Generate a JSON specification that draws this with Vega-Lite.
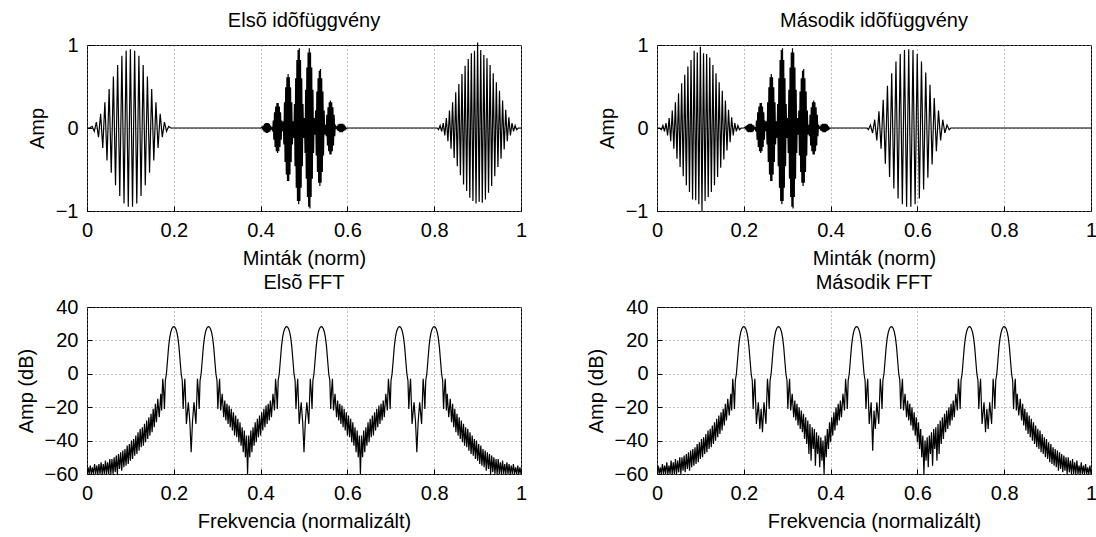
{
"$schema": "https://vega.github.io/schema/vega-lite/v6.json",
"background": "white",
"padding": {"left": 15, "top": 10, "right": 2, "bottom": 2},
"bounds": "flush",
"columns": 2,
"spacing": {"row": 96, "column": 136},
"config": {
  "font": "Liberation Sans",
  "view": {"stroke": "black", "strokeWidth": 1},
  "axis": {"domain": false, "ticks": true, "tickSize": -5, "tickColor": "black", "tickWidth": 1, "grid": true, "gridColor": "#808080", "gridDash": [1, 3], "gridWidth": 1, "labelFontSize": 20, "titleFontSize": 20, "titleFontWeight": "normal", "labelColor": "black", "titleColor": "black", "labelFlush": false, "labelOverlap": false, "labelPadding": 14, "titlePadding": 8},
  "title": {"fontSize": 20, "fontWeight": "normal", "color": "black", "offset": 4},
  "line": {"color": "black", "strokeWidth": 1.2}
},
"datasets": {
"tl": [
{"x":0,"y":0},{"x":0.006,"y":0},
{"x":0.0118,"y":0.02},{"x":0.0167,"y":-0.04},{"x":0.0216,"y":0.07},{"x":0.0265,"y":-0.11},{"x":0.0314,"y":0.17},{"x":0.0363,"y":-0.24},{"x":0.0412,"y":0.31},{"x":0.0461,"y":-0.39},{"x":0.051,"y":0.47},{"x":0.0559,"y":-0.54},{"x":0.0608,"y":0.62},{"x":0.0657,"y":-0.69},{"x":0.0706,"y":0.76},{"x":0.0755,"y":-0.82},{"x":0.0804,"y":0.87},{"x":0.0853,"y":-0.91},{"x":0.0902,"y":0.93},{"x":0.0951,"y":-0.95},{"x":0.1,"y":0.95},{"x":0.1049,"y":-0.95},{"x":0.1098,"y":0.93},{"x":0.1147,"y":-0.91},{"x":0.1196,"y":0.87},{"x":0.1245,"y":-0.82},{"x":0.1294,"y":0.76},{"x":0.1343,"y":-0.69},{"x":0.1392,"y":0.62},{"x":0.1441,"y":-0.54},{"x":0.149,"y":0.47},{"x":0.1539,"y":-0.39},{"x":0.1588,"y":0.31},{"x":0.1637,"y":-0.24},{"x":0.1686,"y":0.17},{"x":0.1735,"y":-0.11},{"x":0.1784,"y":0.07},{"x":0.1833,"y":-0.04},{"x":0.1882,"y":0.02},{"x":0.193,"y":0},
{"x":0.401,"y":0},
{"x":0.4034,"y":0.01},{"x":0.4048,"y":-0.02},{"x":0.4062,"y":0.03},{"x":0.4076,"y":-0.04},{"x":0.409,"y":0.05},{"x":0.4104,"y":-0.05},{"x":0.4118,"y":0.06},{"x":0.4132,"y":-0.06},{"x":0.4146,"y":0.06},{"x":0.416,"y":-0.06},{"x":0.4174,"y":0.06},{"x":0.4188,"y":-0.05},{"x":0.4202,"y":0.05},{"x":0.4216,"y":-0.04},{"x":0.423,"y":0.03},{"x":0.4244,"y":-0.02},{"x":0.4258,"y":0.01},
{"x":0.4278,"y":-0.04},{"x":0.4292,"y":0.09},{"x":0.4306,"y":-0.14},{"x":0.432,"y":0.19},{"x":0.4334,"y":-0.23},{"x":0.4348,"y":0.26},{"x":0.4362,"y":-0.28},{"x":0.4376,"y":0.3},{"x":0.439,"y":-0.3},{"x":0.4404,"y":0.3},{"x":0.4418,"y":-0.28},{"x":0.4432,"y":0.26},{"x":0.4446,"y":-0.23},{"x":0.446,"y":0.19},{"x":0.4474,"y":-0.14},{"x":0.4488,"y":0.09},{"x":0.4502,"y":-0.04},
{"x":0.4522,"y":0.08},{"x":0.4536,"y":-0.2},{"x":0.455,"y":0.31},{"x":0.4564,"y":-0.41},{"x":0.4578,"y":0.49},{"x":0.4592,"y":-0.56},{"x":0.4606,"y":0.61},{"x":0.462,"y":-0.64},{"x":0.4634,"y":0.65},{"x":0.4648,"y":-0.64},{"x":0.4662,"y":0.61},{"x":0.4676,"y":-0.56},{"x":0.469,"y":0.49},{"x":0.4704,"y":-0.41},{"x":0.4718,"y":0.31},{"x":0.4732,"y":-0.2},{"x":0.4746,"y":0.08},
{"x":0.4766,"y":-0.12},{"x":0.478,"y":0.29},{"x":0.4794,"y":-0.46},{"x":0.4808,"y":0.6},{"x":0.4822,"y":-0.72},{"x":0.4836,"y":0.82},{"x":0.485,"y":-0.88},{"x":0.4864,"y":0.94},{"x":0.4878,"y":-0.92},{"x":0.4892,"y":0.96},{"x":0.4906,"y":-0.88},{"x":0.492,"y":0.82},{"x":0.4934,"y":-0.72},{"x":0.4948,"y":0.6},{"x":0.4962,"y":-0.46},{"x":0.4976,"y":0.29},{"x":0.499,"y":-0.12},
{"x":0.501,"y":0.12},{"x":0.5024,"y":-0.3},{"x":0.5038,"y":0.46},{"x":0.5052,"y":-0.61},{"x":0.5066,"y":0.73},{"x":0.508,"y":-0.83},{"x":0.5094,"y":0.91},{"x":0.5108,"y":-0.95},{"x":0.5122,"y":0.96},{"x":0.5136,"y":-0.97},{"x":0.515,"y":0.91},{"x":0.5164,"y":-0.83},{"x":0.5178,"y":0.73},{"x":0.5192,"y":-0.61},{"x":0.5206,"y":0.46},{"x":0.522,"y":-0.3},{"x":0.5234,"y":0.12},
{"x":0.5254,"y":-0.08},{"x":0.5268,"y":0.21},{"x":0.5282,"y":-0.33},{"x":0.5296,"y":0.44},{"x":0.531,"y":-0.53},{"x":0.5324,"y":0.6},{"x":0.5338,"y":-0.66},{"x":0.5352,"y":0.69},{"x":0.5366,"y":-0.7},{"x":0.538,"y":0.71},{"x":0.5394,"y":-0.66},{"x":0.5408,"y":0.6},{"x":0.5422,"y":-0.53},{"x":0.5436,"y":0.44},{"x":0.545,"y":-0.33},{"x":0.5464,"y":0.21},{"x":0.5478,"y":-0.08},
{"x":0.5498,"y":0.04},{"x":0.5512,"y":-0.1},{"x":0.5526,"y":0.16},{"x":0.554,"y":-0.21},{"x":0.5554,"y":0.25},{"x":0.5568,"y":-0.28},{"x":0.5582,"y":0.31},{"x":0.5596,"y":-0.32},{"x":0.561,"y":0.33},{"x":0.5624,"y":-0.32},{"x":0.5638,"y":0.31},{"x":0.5652,"y":-0.28},{"x":0.5666,"y":0.25},{"x":0.568,"y":-0.21},{"x":0.5694,"y":0.16},{"x":0.5708,"y":-0.1},{"x":0.5722,"y":0.04},
{"x":0.5742,"y":-0.01},{"x":0.5756,"y":0.02},{"x":0.577,"y":-0.03},{"x":0.5784,"y":0.04},{"x":0.5798,"y":-0.04},{"x":0.5812,"y":0.05},{"x":0.5826,"y":-0.05},{"x":0.584,"y":0.05},{"x":0.5854,"y":-0.05},{"x":0.5868,"y":0.05},{"x":0.5882,"y":-0.05},{"x":0.5896,"y":0.05},{"x":0.591,"y":-0.04},{"x":0.5924,"y":0.04},{"x":0.5938,"y":-0.03},{"x":0.5952,"y":0.02},{"x":0.5966,"y":-0.01},{"x":0.599,"y":0},
{"x":0.807,"y":0},
{"x":0.81,"y":-0.02},{"x":0.8136,"y":0.03},{"x":0.8172,"y":-0.04},{"x":0.8208,"y":0.06},{"x":0.8244,"y":-0.09},{"x":0.828,"y":0.12},{"x":0.8316,"y":-0.16},{"x":0.8352,"y":0.21},{"x":0.8388,"y":-0.25},{"x":0.8424,"y":0.31},{"x":0.846,"y":-0.36},{"x":0.8496,"y":0.43},{"x":0.8532,"y":-0.46},{"x":0.8568,"y":0.53},{"x":0.8604,"y":-0.57},{"x":0.864,"y":0.65},{"x":0.8676,"y":-0.68},{"x":0.8712,"y":0.75},{"x":0.8748,"y":-0.76},{"x":0.8784,"y":0.83},{"x":0.882,"y":-0.84},{"x":0.8856,"y":0.9},{"x":0.8892,"y":-0.88},{"x":0.8928,"y":0.93},{"x":0.8964,"y":-0.91},{"x":0.9,"y":1.03},{"x":0.9036,"y":-0.89},{"x":0.9072,"y":0.94},{"x":0.9108,"y":-0.9},{"x":0.9144,"y":0.88},{"x":0.918,"y":-0.86},{"x":0.9216,"y":0.84},{"x":0.9252,"y":-0.78},{"x":0.9288,"y":0.76},{"x":0.9324,"y":-0.7},{"x":0.936,"y":0.66},{"x":0.9396,"y":-0.58},{"x":0.9432,"y":0.55},{"x":0.9468,"y":-0.47},{"x":0.9504,"y":0.45},{"x":0.954,"y":-0.37},{"x":0.9576,"y":0.33},{"x":0.9612,"y":-0.26},{"x":0.9648,"y":0.22},{"x":0.9684,"y":-0.16},{"x":0.972,"y":0.13},{"x":0.9756,"y":-0.09},{"x":0.9792,"y":0.06},{"x":0.9828,"y":-0.04},{"x":0.9864,"y":0.03},{"x":0.99,"y":-0.02},{"x":0.994,"y":0},{"x":1,"y":0}
],
"tr": [
{"x":0,"y":0},{"x":0.006,"y":0},
{"x":0.01,"y":-0.02},{"x":0.0136,"y":0.03},{"x":0.0172,"y":-0.04},{"x":0.0208,"y":0.06},{"x":0.0244,"y":-0.09},{"x":0.028,"y":0.12},{"x":0.0316,"y":-0.16},{"x":0.0352,"y":0.21},{"x":0.0388,"y":-0.25},{"x":0.0424,"y":0.31},{"x":0.046,"y":-0.37},{"x":0.0496,"y":0.42},{"x":0.0532,"y":-0.47},{"x":0.0568,"y":0.54},{"x":0.0604,"y":-0.58},{"x":0.064,"y":0.64},{"x":0.0676,"y":-0.69},{"x":0.0712,"y":0.74},{"x":0.0748,"y":-0.77},{"x":0.0784,"y":0.82},{"x":0.082,"y":-0.86},{"x":0.0856,"y":0.93},{"x":0.0892,"y":-0.87},{"x":0.0928,"y":0.91},{"x":0.0964,"y":-0.92},{"x":0.1,"y":0.98},{"x":0.1036,"y":-1.0},{"x":0.1072,"y":0.9},{"x":0.1108,"y":-0.88},{"x":0.1144,"y":0.89},{"x":0.118,"y":-0.83},{"x":0.1216,"y":0.85},{"x":0.1252,"y":-0.77},{"x":0.1288,"y":0.76},{"x":0.1324,"y":-0.69},{"x":0.136,"y":0.66},{"x":0.1396,"y":-0.59},{"x":0.1432,"y":0.55},{"x":0.1468,"y":-0.48},{"x":0.1504,"y":0.45},{"x":0.154,"y":-0.38},{"x":0.1576,"y":0.33},{"x":0.1612,"y":-0.27},{"x":0.1648,"y":0.22},{"x":0.1684,"y":-0.17},{"x":0.172,"y":0.13},{"x":0.1756,"y":-0.09},{"x":0.1792,"y":0.06},{"x":0.1828,"y":-0.04},{"x":0.1864,"y":0.03},{"x":0.19,"y":-0.02},{"x":0.194,"y":0},{"x":0.201,"y":0},
{"x":0.2034,"y":0.01},{"x":0.2048,"y":-0.02},{"x":0.2062,"y":0.03},{"x":0.2076,"y":-0.04},{"x":0.209,"y":0.04},{"x":0.2104,"y":-0.05},{"x":0.2118,"y":0.05},{"x":0.2132,"y":-0.05},{"x":0.2146,"y":0.05},{"x":0.216,"y":-0.05},{"x":0.2174,"y":0.05},{"x":0.2188,"y":-0.05},{"x":0.2202,"y":0.04},{"x":0.2216,"y":-0.04},{"x":0.223,"y":0.03},{"x":0.2244,"y":-0.02},{"x":0.2258,"y":0.01},
{"x":0.2278,"y":-0.04},{"x":0.2292,"y":0.09},{"x":0.2306,"y":-0.14},{"x":0.232,"y":0.19},{"x":0.2334,"y":-0.23},{"x":0.2348,"y":0.26},{"x":0.2362,"y":-0.28},{"x":0.2376,"y":0.3},{"x":0.239,"y":-0.3},{"x":0.2404,"y":0.3},{"x":0.2418,"y":-0.28},{"x":0.2432,"y":0.26},{"x":0.2446,"y":-0.23},{"x":0.246,"y":0.19},{"x":0.2474,"y":-0.14},{"x":0.2488,"y":0.09},{"x":0.2502,"y":-0.04},
{"x":0.2522,"y":0.08},{"x":0.2536,"y":-0.2},{"x":0.255,"y":0.31},{"x":0.2564,"y":-0.41},{"x":0.2578,"y":0.49},{"x":0.2592,"y":-0.56},{"x":0.2606,"y":0.61},{"x":0.262,"y":-0.64},{"x":0.2634,"y":0.65},{"x":0.2648,"y":-0.64},{"x":0.2662,"y":0.61},{"x":0.2676,"y":-0.56},{"x":0.269,"y":0.49},{"x":0.2704,"y":-0.41},{"x":0.2718,"y":0.31},{"x":0.2732,"y":-0.2},{"x":0.2746,"y":0.08},
{"x":0.2766,"y":-0.12},{"x":0.278,"y":0.29},{"x":0.2794,"y":-0.46},{"x":0.2808,"y":0.6},{"x":0.2822,"y":-0.72},{"x":0.2836,"y":0.82},{"x":0.285,"y":-0.88},{"x":0.2864,"y":0.94},{"x":0.2878,"y":-0.92},{"x":0.2892,"y":0.96},{"x":0.2906,"y":-0.88},{"x":0.292,"y":0.82},{"x":0.2934,"y":-0.72},{"x":0.2948,"y":0.6},{"x":0.2962,"y":-0.46},{"x":0.2976,"y":0.29},{"x":0.299,"y":-0.12},
{"x":0.301,"y":0.12},{"x":0.3024,"y":-0.3},{"x":0.3038,"y":0.46},{"x":0.3052,"y":-0.61},{"x":0.3066,"y":0.73},{"x":0.308,"y":-0.83},{"x":0.3094,"y":0.91},{"x":0.3108,"y":-0.95},{"x":0.3122,"y":0.96},{"x":0.3136,"y":-0.97},{"x":0.315,"y":0.91},{"x":0.3164,"y":-0.83},{"x":0.3178,"y":0.73},{"x":0.3192,"y":-0.61},{"x":0.3206,"y":0.46},{"x":0.322,"y":-0.3},{"x":0.3234,"y":0.12},
{"x":0.3254,"y":-0.08},{"x":0.3268,"y":0.21},{"x":0.3282,"y":-0.33},{"x":0.3296,"y":0.44},{"x":0.331,"y":-0.53},{"x":0.3324,"y":0.6},{"x":0.3338,"y":-0.66},{"x":0.3352,"y":0.69},{"x":0.3366,"y":-0.7},{"x":0.338,"y":0.71},{"x":0.3394,"y":-0.66},{"x":0.3408,"y":0.6},{"x":0.3422,"y":-0.53},{"x":0.3436,"y":0.44},{"x":0.345,"y":-0.33},{"x":0.3464,"y":0.21},{"x":0.3478,"y":-0.08},
{"x":0.3498,"y":0.04},{"x":0.3512,"y":-0.1},{"x":0.3526,"y":0.16},{"x":0.354,"y":-0.21},{"x":0.3554,"y":0.25},{"x":0.3568,"y":-0.28},{"x":0.3582,"y":0.31},{"x":0.3596,"y":-0.32},{"x":0.361,"y":0.33},{"x":0.3624,"y":-0.32},{"x":0.3638,"y":0.31},{"x":0.3652,"y":-0.28},{"x":0.3666,"y":0.25},{"x":0.368,"y":-0.21},{"x":0.3694,"y":0.16},{"x":0.3708,"y":-0.1},{"x":0.3722,"y":0.04},
{"x":0.3742,"y":-0.01},{"x":0.3756,"y":0.02},{"x":0.377,"y":-0.03},{"x":0.3784,"y":0.04},{"x":0.3798,"y":-0.04},{"x":0.3812,"y":0.05},{"x":0.3826,"y":-0.05},{"x":0.384,"y":0.05},{"x":0.3854,"y":-0.05},{"x":0.3868,"y":0.05},{"x":0.3882,"y":-0.05},{"x":0.3896,"y":0.05},{"x":0.391,"y":-0.04},{"x":0.3924,"y":0.04},{"x":0.3938,"y":-0.03},{"x":0.3952,"y":0.02},{"x":0.3966,"y":-0.01},{"x":0.399,"y":0},
{"x":0.484,"y":0},
{"x":0.4869,"y":-0.02},{"x":0.4918,"y":0.035},{"x":0.4967,"y":-0.06},{"x":0.5016,"y":0.1},{"x":0.5065,"y":-0.15},{"x":0.5114,"y":0.2},{"x":0.5163,"y":-0.25},{"x":0.5212,"y":0.34},{"x":0.5261,"y":-0.43},{"x":0.531,"y":0.51},{"x":0.5359,"y":-0.59},{"x":0.5408,"y":0.66},{"x":0.5457,"y":-0.73},{"x":0.5506,"y":0.8},{"x":0.5555,"y":-0.85},{"x":0.5604,"y":0.89},{"x":0.5653,"y":-0.92},{"x":0.5702,"y":0.94},{"x":0.5751,"y":-0.95},{"x":0.58,"y":0.95},{"x":0.5849,"y":-0.95},{"x":0.5898,"y":0.94},{"x":0.5947,"y":-0.92},{"x":0.5996,"y":0.89},{"x":0.6045,"y":-0.85},{"x":0.6094,"y":0.8},{"x":0.6143,"y":-0.74},{"x":0.6192,"y":0.67},{"x":0.6241,"y":-0.6},{"x":0.629,"y":0.52},{"x":0.6339,"y":-0.44},{"x":0.6388,"y":0.36},{"x":0.6437,"y":-0.28},{"x":0.6486,"y":0.21},{"x":0.6535,"y":-0.15},{"x":0.6584,"y":0.1},{"x":0.6633,"y":-0.06},{"x":0.6682,"y":0.035},{"x":0.6731,"y":-0.02},{"x":0.677,"y":0},{"x":1,"y":0}
],
"bl": [
{"x":0,"y":-60},{"x":0.0025,"y":-56},{"x":0.005,"y":-60},{"x":0.0075,"y":-55},{"x":0.01,"y":-60},{"x":0.0125,"y":-56},{"x":0.015,"y":-60},{"x":0.0175,"y":-54},{"x":0.02,"y":-60},{"x":0.0225,"y":-55},{"x":0.025,"y":-60},{"x":0.0275,"y":-54},{"x":0.03,"y":-60},{"x":0.0325,"y":-53},{"x":0.035,"y":-60},{"x":0.0375,"y":-54},{"x":0.04,"y":-60},{"x":0.0425,"y":-52},{"x":0.045,"y":-60},{"x":0.0475,"y":-53},{"x":0.05,"y":-60},{"x":0.0525,"y":-51},{"x":0.055,"y":-60},{"x":0.0575,"y":-51},{"x":0.06,"y":-60},{"x":0.0625,"y":-50},{"x":0.065,"y":-59},{"x":0.0675,"y":-49},{"x":0.07,"y":-60},{"x":0.0725,"y":-48},{"x":0.075,"y":-57},{"x":0.0775,"y":-47},{"x":0.08,"y":-58},{"x":0.0825,"y":-46},{"x":0.085,"y":-56},{"x":0.0875,"y":-45},{"x":0.09,"y":-55},{"x":0.0925,"y":-43},{"x":0.095,"y":-54},{"x":0.0975,"y":-42},{"x":0.1,"y":-52},{"x":0.1025,"y":-40},{"x":0.105,"y":-51},{"x":0.1075,"y":-39},{"x":0.11,"y":-49},{"x":0.1125,"y":-37},{"x":0.115,"y":-48},{"x":0.1175,"y":-35},{"x":0.12,"y":-46},{"x":0.1225,"y":-33},{"x":0.125,"y":-44},{"x":0.1275,"y":-32},{"x":0.13,"y":-43},{"x":0.1325,"y":-30},{"x":0.135,"y":-41},{"x":0.1375,"y":-28},{"x":0.14,"y":-39},{"x":0.1425,"y":-26},{"x":0.145,"y":-37},{"x":0.1475,"y":-24},{"x":0.15,"y":-35},{"x":0.1525,"y":-21},{"x":0.155,"y":-32},{"x":0.1575,"y":-18},{"x":0.16,"y":-29},{"x":0.163,"y":-15},{"x":0.1665,"y":-26},{"x":0.17,"y":-12},{"x":0.172,"y":-22},
{"x":0.1745,"y":-3},{"x":0.1765,"y":-10},{"x":0.1785,"y":-21},{"x":0.1805,"y":-4},{"x":0.183,"y":0},{"x":0.1855,"y":8},{"x":0.188,"y":16},{"x":0.1905,"y":21.5},{"x":0.193,"y":25},{"x":0.1955,"y":27},{"x":0.198,"y":28},{"x":0.2,"y":28.2},{"x":0.202,"y":28},{"x":0.2045,"y":27},{"x":0.207,"y":25},{"x":0.2095,"y":21.5},{"x":0.212,"y":16},{"x":0.2145,"y":8},{"x":0.217,"y":0},{"x":0.2195,"y":-4},{"x":0.2215,"y":-21},{"x":0.2235,"y":-10},{"x":0.2255,"y":-3},
{"x":0.229,"y":-30},{"x":0.2335,"y":-17},{"x":0.237,"y":-29},{"x":0.24,"y":-47},{"x":0.243,"y":-29},{"x":0.2465,"y":-17},{"x":0.251,"y":-30},
{"x":0.2545,"y":-3},{"x":0.2565,"y":-10},{"x":0.2585,"y":-21},{"x":0.2605,"y":-4},{"x":0.263,"y":0},{"x":0.2655,"y":8},{"x":0.268,"y":16},{"x":0.2705,"y":21.5},{"x":0.273,"y":25},{"x":0.2755,"y":27},{"x":0.278,"y":28},{"x":0.28,"y":28.2},{"x":0.282,"y":28},{"x":0.2845,"y":27},{"x":0.287,"y":25},{"x":0.2895,"y":21.5},{"x":0.292,"y":16},{"x":0.2945,"y":8},{"x":0.297,"y":0},{"x":0.2995,"y":-4},{"x":0.3015,"y":-21},{"x":0.3035,"y":-10},{"x":0.3055,"y":-3},
{"x":0.308,"y":-22},{"x":0.3115,"y":-12},{"x":0.315,"y":-26},{"x":0.3175,"y":-16},{"x":0.32,"y":-28},{"x":0.3225,"y":-18},{"x":0.325,"y":-30},{"x":0.3275,"y":-19},{"x":0.33,"y":-32},{"x":0.3325,"y":-21},{"x":0.335,"y":-34},{"x":0.3375,"y":-23},{"x":0.34,"y":-37},{"x":0.3425,"y":-25},{"x":0.345,"y":-38},{"x":0.3475,"y":-27},{"x":0.35,"y":-41},{"x":0.3525,"y":-29},{"x":0.355,"y":-43},{"x":0.3575,"y":-32},{"x":0.36,"y":-47},{"x":0.3625,"y":-34},{"x":0.365,"y":-50},{"x":0.3675,"y":-37},{"x":0.37,"y":-60},{"x":0.3725,"y":-37},{"x":0.375,"y":-50},{"x":0.3775,"y":-34},{"x":0.38,"y":-47},{"x":0.3825,"y":-32},{"x":0.385,"y":-43},{"x":0.3875,"y":-29},{"x":0.39,"y":-41},{"x":0.3925,"y":-27},{"x":0.395,"y":-38},{"x":0.3975,"y":-25},{"x":0.4,"y":-37},{"x":0.4025,"y":-23},{"x":0.405,"y":-34},{"x":0.4075,"y":-21},{"x":0.41,"y":-32},{"x":0.4125,"y":-19},{"x":0.415,"y":-30},{"x":0.4175,"y":-18},{"x":0.42,"y":-28},{"x":0.4225,"y":-16},{"x":0.425,"y":-26},{"x":0.4285,"y":-12},{"x":0.432,"y":-22},
{"x":0.4345,"y":-3},{"x":0.4365,"y":-10},{"x":0.4385,"y":-21},{"x":0.4405,"y":-4},{"x":0.443,"y":0},{"x":0.4455,"y":8},{"x":0.448,"y":16},{"x":0.4505,"y":21.5},{"x":0.453,"y":25},{"x":0.4555,"y":27},{"x":0.458,"y":28},{"x":0.46,"y":28.2},{"x":0.462,"y":28},{"x":0.4645,"y":27},{"x":0.467,"y":25},{"x":0.4695,"y":21.5},{"x":0.472,"y":16},{"x":0.4745,"y":8},{"x":0.477,"y":0},{"x":0.4795,"y":-4},{"x":0.4815,"y":-21},{"x":0.4835,"y":-10},{"x":0.4855,"y":-3},
{"x":0.489,"y":-30},{"x":0.4935,"y":-17},{"x":0.497,"y":-29},{"x":0.5,"y":-47},{"x":0.503,"y":-29},{"x":0.5065,"y":-17},{"x":0.511,"y":-30},
{"x":0.5145,"y":-3},{"x":0.5165,"y":-10},{"x":0.5185,"y":-21},{"x":0.5205,"y":-4},{"x":0.523,"y":0},{"x":0.5255,"y":8},{"x":0.528,"y":16},{"x":0.5305,"y":21.5},{"x":0.533,"y":25},{"x":0.5355,"y":27},{"x":0.538,"y":28},{"x":0.54,"y":28.2},{"x":0.542,"y":28},{"x":0.5445,"y":27},{"x":0.547,"y":25},{"x":0.5495,"y":21.5},{"x":0.552,"y":16},{"x":0.5545,"y":8},{"x":0.557,"y":0},{"x":0.5595,"y":-4},{"x":0.5615,"y":-21},{"x":0.5635,"y":-10},{"x":0.5655,"y":-3},
{"x":0.568,"y":-22},{"x":0.5715,"y":-12},{"x":0.575,"y":-26},{"x":0.5775,"y":-16},{"x":0.58,"y":-28},{"x":0.5825,"y":-18},{"x":0.585,"y":-30},{"x":0.5875,"y":-19},{"x":0.59,"y":-32},{"x":0.5925,"y":-21},{"x":0.595,"y":-34},{"x":0.5975,"y":-23},{"x":0.6,"y":-37},{"x":0.6025,"y":-25},{"x":0.605,"y":-38},{"x":0.6075,"y":-27},{"x":0.61,"y":-41},{"x":0.6125,"y":-29},{"x":0.615,"y":-43},{"x":0.6175,"y":-32},{"x":0.62,"y":-47},{"x":0.6225,"y":-34},{"x":0.625,"y":-50},{"x":0.6275,"y":-37},{"x":0.63,"y":-60},{"x":0.6325,"y":-37},{"x":0.635,"y":-50},{"x":0.6375,"y":-34},{"x":0.64,"y":-47},{"x":0.6425,"y":-32},{"x":0.645,"y":-43},{"x":0.6475,"y":-29},{"x":0.65,"y":-41},{"x":0.6525,"y":-27},{"x":0.655,"y":-38},{"x":0.6575,"y":-25},{"x":0.66,"y":-37},{"x":0.6625,"y":-23},{"x":0.665,"y":-34},{"x":0.6675,"y":-21},{"x":0.67,"y":-32},{"x":0.6725,"y":-19},{"x":0.675,"y":-30},{"x":0.6775,"y":-18},{"x":0.68,"y":-28},{"x":0.6825,"y":-16},{"x":0.685,"y":-26},{"x":0.6885,"y":-12},{"x":0.692,"y":-22},
{"x":0.6945,"y":-3},{"x":0.6965,"y":-10},{"x":0.6985,"y":-21},{"x":0.7005,"y":-4},{"x":0.703,"y":0},{"x":0.7055,"y":8},{"x":0.708,"y":16},{"x":0.7105,"y":21.5},{"x":0.713,"y":25},{"x":0.7155,"y":27},{"x":0.718,"y":28},{"x":0.72,"y":28.2},{"x":0.722,"y":28},{"x":0.7245,"y":27},{"x":0.727,"y":25},{"x":0.7295,"y":21.5},{"x":0.732,"y":16},{"x":0.7345,"y":8},{"x":0.737,"y":0},{"x":0.7395,"y":-4},{"x":0.7415,"y":-21},{"x":0.7435,"y":-10},{"x":0.7455,"y":-3},
{"x":0.749,"y":-30},{"x":0.7535,"y":-17},{"x":0.757,"y":-29},{"x":0.76,"y":-47},{"x":0.763,"y":-29},{"x":0.7665,"y":-17},{"x":0.771,"y":-30},
{"x":0.7745,"y":-3},{"x":0.7765,"y":-10},{"x":0.7785,"y":-21},{"x":0.7805,"y":-4},{"x":0.783,"y":0},{"x":0.7855,"y":8},{"x":0.788,"y":16},{"x":0.7905,"y":21.5},{"x":0.793,"y":25},{"x":0.7955,"y":27},{"x":0.798,"y":28},{"x":0.8,"y":28.2},{"x":0.802,"y":28},{"x":0.8045,"y":27},{"x":0.807,"y":25},{"x":0.8095,"y":21.5},{"x":0.812,"y":16},{"x":0.8145,"y":8},{"x":0.817,"y":0},{"x":0.8195,"y":-4},{"x":0.8215,"y":-21},{"x":0.8235,"y":-10},{"x":0.8255,"y":-3},
{"x":0.828,"y":-22},{"x":0.83,"y":-12},{"x":0.8335,"y":-26},{"x":0.837,"y":-15},{"x":0.84,"y":-29},{"x":0.8425,"y":-18},{"x":0.845,"y":-32},{"x":0.8475,"y":-21},{"x":0.85,"y":-35},{"x":0.8525,"y":-24},{"x":0.855,"y":-37},{"x":0.8575,"y":-26},{"x":0.86,"y":-39},{"x":0.8625,"y":-28},{"x":0.865,"y":-41},{"x":0.8675,"y":-30},{"x":0.87,"y":-43},{"x":0.8725,"y":-32},{"x":0.875,"y":-44},{"x":0.8775,"y":-33},{"x":0.88,"y":-46},{"x":0.8825,"y":-35},{"x":0.885,"y":-48},{"x":0.8875,"y":-37},{"x":0.89,"y":-49},{"x":0.8925,"y":-39},{"x":0.895,"y":-51},{"x":0.8975,"y":-40},{"x":0.9,"y":-52},{"x":0.9025,"y":-42},{"x":0.905,"y":-54},{"x":0.9075,"y":-43},{"x":0.91,"y":-55},{"x":0.9125,"y":-45},{"x":0.915,"y":-56},{"x":0.9175,"y":-46},{"x":0.92,"y":-58},{"x":0.9225,"y":-47},{"x":0.925,"y":-57},{"x":0.9275,"y":-48},{"x":0.93,"y":-60},{"x":0.9325,"y":-49},{"x":0.935,"y":-59},{"x":0.9375,"y":-50},{"x":0.94,"y":-60},{"x":0.9425,"y":-51},{"x":0.945,"y":-60},{"x":0.9475,"y":-51},{"x":0.95,"y":-60},{"x":0.9525,"y":-53},{"x":0.955,"y":-60},{"x":0.9575,"y":-52},{"x":0.96,"y":-60},{"x":0.9625,"y":-54},{"x":0.965,"y":-60},{"x":0.9675,"y":-53},{"x":0.97,"y":-60},{"x":0.9725,"y":-54},{"x":0.975,"y":-60},{"x":0.9775,"y":-55},{"x":0.98,"y":-60},{"x":0.9825,"y":-54},{"x":0.985,"y":-60},{"x":0.9875,"y":-56},{"x":0.99,"y":-60},{"x":0.9925,"y":-55},{"x":0.995,"y":-60},{"x":0.9975,"y":-56},{"x":1,"y":-60}
],
"br": [
{"x":0,"y":-60},{"x":0.0025,"y":-55},{"x":0.005,"y":-60},{"x":0.0075,"y":-56},{"x":0.01,"y":-60},{"x":0.0125,"y":-54},{"x":0.015,"y":-60},{"x":0.0175,"y":-55},{"x":0.02,"y":-60},{"x":0.0225,"y":-53},{"x":0.025,"y":-60},{"x":0.0275,"y":-55},{"x":0.03,"y":-60},{"x":0.0325,"y":-52},{"x":0.035,"y":-60},{"x":0.0375,"y":-53},{"x":0.04,"y":-60},{"x":0.0425,"y":-51},{"x":0.045,"y":-60},{"x":0.0475,"y":-52},{"x":0.05,"y":-59},{"x":0.0525,"y":-50},{"x":0.055,"y":-60},{"x":0.0575,"y":-50},{"x":0.06,"y":-58},{"x":0.0625,"y":-49},{"x":0.065,"y":-59},{"x":0.0675,"y":-48},{"x":0.07,"y":-57},{"x":0.0725,"y":-47},{"x":0.075,"y":-58},{"x":0.0775,"y":-46},{"x":0.08,"y":-56},{"x":0.0825,"y":-45},{"x":0.085,"y":-55},{"x":0.0875,"y":-44},{"x":0.09,"y":-54},{"x":0.0925,"y":-42},{"x":0.095,"y":-53},{"x":0.0975,"y":-41},{"x":0.1,"y":-51},{"x":0.1025,"y":-39},{"x":0.105,"y":-50},{"x":0.1075,"y":-38},{"x":0.11,"y":-48},{"x":0.1125,"y":-36},{"x":0.115,"y":-47},{"x":0.1175,"y":-34},{"x":0.12,"y":-45},{"x":0.1225,"y":-33},{"x":0.125,"y":-44},{"x":0.1275,"y":-31},{"x":0.13,"y":-42},{"x":0.1325,"y":-29},{"x":0.135,"y":-40},{"x":0.1375,"y":-27},{"x":0.14,"y":-38},{"x":0.1425,"y":-25},{"x":0.145,"y":-36},{"x":0.1475,"y":-23},{"x":0.15,"y":-34},{"x":0.1525,"y":-21},{"x":0.155,"y":-31},{"x":0.1575,"y":-18},{"x":0.16,"y":-28},{"x":0.163,"y":-15},{"x":0.1665,"y":-25},{"x":0.17,"y":-12},{"x":0.172,"y":-22},
{"x":0.1745,"y":-3},{"x":0.1765,"y":-10},{"x":0.1785,"y":-21},{"x":0.1805,"y":-4},{"x":0.183,"y":0},{"x":0.1855,"y":8},{"x":0.188,"y":16},{"x":0.1905,"y":21.5},{"x":0.193,"y":25},{"x":0.1955,"y":27},{"x":0.198,"y":28},{"x":0.2,"y":28.2},{"x":0.202,"y":28},{"x":0.2045,"y":27},{"x":0.207,"y":25},{"x":0.2095,"y":21.5},{"x":0.212,"y":16},{"x":0.2145,"y":8},{"x":0.217,"y":0},{"x":0.2195,"y":-4},{"x":0.2215,"y":-21},{"x":0.2235,"y":-10},{"x":0.2255,"y":-3},
{"x":0.229,"y":-30},{"x":0.2335,"y":-17},{"x":0.237,"y":-33},{"x":0.24,"y":-21},{"x":0.243,"y":-35},{"x":0.2465,"y":-17},{"x":0.251,"y":-30},
{"x":0.2545,"y":-3},{"x":0.2565,"y":-10},{"x":0.2585,"y":-21},{"x":0.2605,"y":-4},{"x":0.263,"y":0},{"x":0.2655,"y":8},{"x":0.268,"y":16},{"x":0.2705,"y":21.5},{"x":0.273,"y":25},{"x":0.2755,"y":27},{"x":0.278,"y":28},{"x":0.28,"y":28.2},{"x":0.282,"y":28},{"x":0.2845,"y":27},{"x":0.287,"y":25},{"x":0.2895,"y":21.5},{"x":0.292,"y":16},{"x":0.2945,"y":8},{"x":0.297,"y":0},{"x":0.2995,"y":-4},{"x":0.3015,"y":-21},{"x":0.3035,"y":-10},{"x":0.3055,"y":-3},
{"x":0.308,"y":-22},{"x":0.3115,"y":-12},{"x":0.315,"y":-26},{"x":0.3175,"y":-16},{"x":0.32,"y":-28},{"x":0.3225,"y":-18},{"x":0.325,"y":-31},{"x":0.3275,"y":-20},{"x":0.33,"y":-33},{"x":0.3325,"y":-22},{"x":0.335,"y":-35},{"x":0.3375,"y":-24},{"x":0.34,"y":-39},{"x":0.3425,"y":-26},{"x":0.345,"y":-42},{"x":0.3475,"y":-28},{"x":0.35,"y":-48},{"x":0.3525,"y":-30},{"x":0.355,"y":-52},{"x":0.3575,"y":-32},{"x":0.36,"y":-45},{"x":0.3625,"y":-33},{"x":0.365,"y":-55},{"x":0.3675,"y":-35},{"x":0.37,"y":-48},{"x":0.3725,"y":-37},{"x":0.375,"y":-56},{"x":0.3775,"y":-38},{"x":0.38,"y":-52},{"x":0.3825,"y":-40},{"x":0.385,"y":-60},{"x":0.3875,"y":-37},{"x":0.39,"y":-50},{"x":0.3925,"y":-33},{"x":0.395,"y":-45},{"x":0.3975,"y":-29},{"x":0.4,"y":-41},{"x":0.4025,"y":-26},{"x":0.405,"y":-37},{"x":0.4075,"y":-23},{"x":0.41,"y":-34},{"x":0.4125,"y":-20},{"x":0.415,"y":-31},{"x":0.4175,"y":-18},{"x":0.42,"y":-28},{"x":0.4225,"y":-16},{"x":0.425,"y":-26},{"x":0.4285,"y":-12},{"x":0.432,"y":-22},
{"x":0.4345,"y":-3},{"x":0.4365,"y":-10},{"x":0.4385,"y":-21},{"x":0.4405,"y":-4},{"x":0.443,"y":0},{"x":0.4455,"y":8},{"x":0.448,"y":16},{"x":0.4505,"y":21.5},{"x":0.453,"y":25},{"x":0.4555,"y":27},{"x":0.458,"y":28},{"x":0.46,"y":28.2},{"x":0.462,"y":28},{"x":0.4645,"y":27},{"x":0.467,"y":25},{"x":0.4695,"y":21.5},{"x":0.472,"y":16},{"x":0.4745,"y":8},{"x":0.477,"y":0},{"x":0.4795,"y":-4},{"x":0.4815,"y":-21},{"x":0.4835,"y":-10},{"x":0.4855,"y":-3},
{"x":0.489,"y":-30},{"x":0.4935,"y":-17},{"x":0.497,"y":-46},{"x":0.5,"y":-22},{"x":0.503,"y":-33},{"x":0.5065,"y":-17},{"x":0.511,"y":-30},
{"x":0.5145,"y":-3},{"x":0.5165,"y":-10},{"x":0.5185,"y":-21},{"x":0.5205,"y":-4},{"x":0.523,"y":0},{"x":0.5255,"y":8},{"x":0.528,"y":16},{"x":0.5305,"y":21.5},{"x":0.533,"y":25},{"x":0.5355,"y":27},{"x":0.538,"y":28},{"x":0.54,"y":28.2},{"x":0.542,"y":28},{"x":0.5445,"y":27},{"x":0.547,"y":25},{"x":0.5495,"y":21.5},{"x":0.552,"y":16},{"x":0.5545,"y":8},{"x":0.557,"y":0},{"x":0.5595,"y":-4},{"x":0.5615,"y":-21},{"x":0.5635,"y":-10},{"x":0.5655,"y":-3},
{"x":0.568,"y":-22},{"x":0.5715,"y":-12},{"x":0.575,"y":-26},{"x":0.5775,"y":-16},{"x":0.58,"y":-28},{"x":0.5825,"y":-18},{"x":0.585,"y":-31},{"x":0.5875,"y":-20},{"x":0.59,"y":-34},{"x":0.5925,"y":-23},{"x":0.595,"y":-37},{"x":0.5975,"y":-26},{"x":0.6,"y":-41},{"x":0.6025,"y":-29},{"x":0.605,"y":-45},{"x":0.6075,"y":-33},{"x":0.61,"y":-50},{"x":0.6125,"y":-37},{"x":0.615,"y":-60},{"x":0.6175,"y":-40},{"x":0.62,"y":-52},{"x":0.6225,"y":-38},{"x":0.625,"y":-56},{"x":0.6275,"y":-37},{"x":0.63,"y":-48},{"x":0.6325,"y":-35},{"x":0.635,"y":-55},{"x":0.6375,"y":-33},{"x":0.64,"y":-45},{"x":0.6425,"y":-32},{"x":0.645,"y":-52},{"x":0.6475,"y":-30},{"x":0.65,"y":-48},{"x":0.6525,"y":-28},{"x":0.655,"y":-42},{"x":0.6575,"y":-26},{"x":0.66,"y":-39},{"x":0.6625,"y":-24},{"x":0.665,"y":-35},{"x":0.6675,"y":-22},{"x":0.67,"y":-33},{"x":0.6725,"y":-20},{"x":0.675,"y":-31},{"x":0.6775,"y":-18},{"x":0.68,"y":-28},{"x":0.6825,"y":-16},{"x":0.685,"y":-26},{"x":0.6885,"y":-12},{"x":0.692,"y":-22},
{"x":0.6945,"y":-3},{"x":0.6965,"y":-10},{"x":0.6985,"y":-21},{"x":0.7005,"y":-4},{"x":0.703,"y":0},{"x":0.7055,"y":8},{"x":0.708,"y":16},{"x":0.7105,"y":21.5},{"x":0.713,"y":25},{"x":0.7155,"y":27},{"x":0.718,"y":28},{"x":0.72,"y":28.2},{"x":0.722,"y":28},{"x":0.7245,"y":27},{"x":0.727,"y":25},{"x":0.7295,"y":21.5},{"x":0.732,"y":16},{"x":0.7345,"y":8},{"x":0.737,"y":0},{"x":0.7395,"y":-4},{"x":0.7415,"y":-21},{"x":0.7435,"y":-10},{"x":0.7455,"y":-3},
{"x":0.749,"y":-30},{"x":0.7535,"y":-17},{"x":0.757,"y":-35},{"x":0.76,"y":-21},{"x":0.763,"y":-33},{"x":0.7665,"y":-17},{"x":0.771,"y":-30},
{"x":0.7745,"y":-3},{"x":0.7765,"y":-10},{"x":0.7785,"y":-21},{"x":0.7805,"y":-4},{"x":0.783,"y":0},{"x":0.7855,"y":8},{"x":0.788,"y":16},{"x":0.7905,"y":21.5},{"x":0.793,"y":25},{"x":0.7955,"y":27},{"x":0.798,"y":28},{"x":0.8,"y":28.2},{"x":0.802,"y":28},{"x":0.8045,"y":27},{"x":0.807,"y":25},{"x":0.8095,"y":21.5},{"x":0.812,"y":16},{"x":0.8145,"y":8},{"x":0.817,"y":0},{"x":0.8195,"y":-4},{"x":0.8215,"y":-21},{"x":0.8235,"y":-10},{"x":0.8255,"y":-3},
{"x":0.828,"y":-22},{"x":0.83,"y":-12},{"x":0.8335,"y":-25},{"x":0.837,"y":-15},{"x":0.84,"y":-28},{"x":0.8425,"y":-18},{"x":0.845,"y":-31},{"x":0.8475,"y":-21},{"x":0.85,"y":-34},{"x":0.8525,"y":-23},{"x":0.855,"y":-36},{"x":0.8575,"y":-25},{"x":0.86,"y":-38},{"x":0.8625,"y":-27},{"x":0.865,"y":-40},{"x":0.8675,"y":-29},{"x":0.87,"y":-42},{"x":0.8725,"y":-31},{"x":0.875,"y":-44},{"x":0.8775,"y":-33},{"x":0.88,"y":-45},{"x":0.8825,"y":-34},{"x":0.885,"y":-47},{"x":0.8875,"y":-36},{"x":0.89,"y":-48},{"x":0.8925,"y":-38},{"x":0.895,"y":-50},{"x":0.8975,"y":-39},{"x":0.9,"y":-51},{"x":0.9025,"y":-41},{"x":0.905,"y":-53},{"x":0.9075,"y":-42},{"x":0.91,"y":-54},{"x":0.9125,"y":-44},{"x":0.915,"y":-55},{"x":0.9175,"y":-45},{"x":0.92,"y":-56},{"x":0.9225,"y":-46},{"x":0.925,"y":-58},{"x":0.9275,"y":-47},{"x":0.93,"y":-57},{"x":0.9325,"y":-48},{"x":0.935,"y":-59},{"x":0.9375,"y":-49},{"x":0.94,"y":-58},{"x":0.9425,"y":-50},{"x":0.945,"y":-60},{"x":0.9475,"y":-50},{"x":0.95,"y":-59},{"x":0.9525,"y":-52},{"x":0.955,"y":-60},{"x":0.9575,"y":-51},{"x":0.96,"y":-60},{"x":0.9625,"y":-53},{"x":0.965,"y":-60},{"x":0.9675,"y":-52},{"x":0.97,"y":-60},{"x":0.9725,"y":-55},{"x":0.975,"y":-60},{"x":0.9775,"y":-53},{"x":0.98,"y":-60},{"x":0.9825,"y":-55},{"x":0.985,"y":-60},{"x":0.9875,"y":-54},{"x":0.99,"y":-60},{"x":0.9925,"y":-56},{"x":0.995,"y":-60},{"x":0.9975,"y":-55},{"x":1,"y":-60}
]
},
"concat": [
{
  "title": "Elsõ idõfüggvény",
  "width": 434, "height": 166,
  "data": {"name": "tl"},
  "mark": {"type": "line", "color": "black", "strokeWidth": 1.2},
  "encoding": {
    "x": {"field": "x", "type": "quantitative", "scale": {"domain": [0, 1], "nice": false, "zero": false}, "axis": {"title": "Minták (norm)", "values": [0, 0.2, 0.4, 0.6, 0.8, 1], "format": "~g"}},
    "y": {"field": "y", "type": "quantitative", "scale": {"domain": [-1, 1], "nice": false}, "axis": {"title": "Amp", "values": [-1, 0, 1], "format": "~g"}}
  }
},
{
  "title": "Második idõfüggvény",
  "width": 434, "height": 166,
  "data": {"name": "tr"},
  "mark": {"type": "line", "color": "black", "strokeWidth": 1.2},
  "encoding": {
    "x": {"field": "x", "type": "quantitative", "scale": {"domain": [0, 1], "nice": false, "zero": false}, "axis": {"title": "Minták (norm)", "values": [0, 0.2, 0.4, 0.6, 0.8, 1], "format": "~g"}},
    "y": {"field": "y", "type": "quantitative", "scale": {"domain": [-1, 1], "nice": false}, "axis": {"title": "Amp", "values": [-1, 0, 1], "format": "~g"}}
  }
},
{
  "title": "Elsõ FFT",
  "width": 434, "height": 167,
  "data": {"name": "bl"},
  "mark": {"type": "line", "color": "black", "strokeWidth": 1.2, "clip": true},
  "encoding": {
    "x": {"field": "x", "type": "quantitative", "scale": {"domain": [0, 1], "nice": false, "zero": false}, "axis": {"title": "Frekvencia (normalizált)", "values": [0, 0.2, 0.4, 0.6, 0.8, 1], "format": "~g"}},
    "y": {"field": "y", "type": "quantitative", "scale": {"domain": [-60, 40], "nice": false, "zero": false}, "axis": {"title": "Amp (dB)", "values": [-60, -40, -20, 0, 20, 40], "format": "d"}}
  }
},
{
  "title": "Második FFT",
  "width": 434, "height": 167,
  "data": {"name": "br"},
  "mark": {"type": "line", "color": "black", "strokeWidth": 1.2, "clip": true},
  "encoding": {
    "x": {"field": "x", "type": "quantitative", "scale": {"domain": [0, 1], "nice": false, "zero": false}, "axis": {"title": "Frekvencia (normalizált)", "values": [0, 0.2, 0.4, 0.6, 0.8, 1], "format": "~g"}},
    "y": {"field": "y", "type": "quantitative", "scale": {"domain": [-60, 40], "nice": false, "zero": false}, "axis": {"title": "Amp (dB)", "values": [-60, -40, -20, 0, 20, 40], "format": "d"}}
  }
}
]
}
